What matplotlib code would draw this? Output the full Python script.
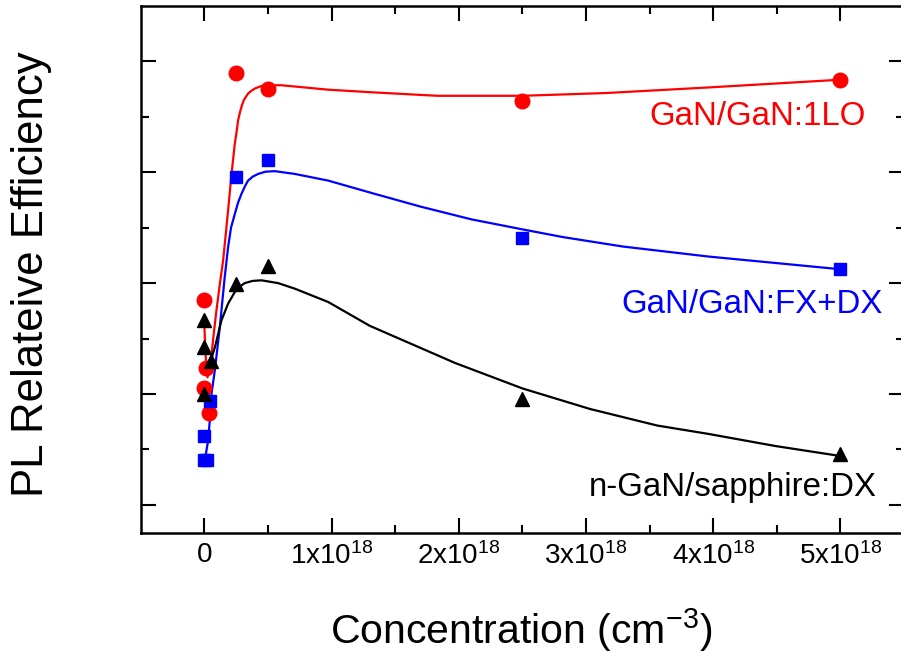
import matplotlib
matplotlib.use("Agg")
import matplotlib.pyplot as plt
from matplotlib.ticker import FixedLocator

plt.rcParams['font.family'] = ['Liberation Sans', 'DejaVu Sans']
plt.rcParams['mathtext.fontset'] = 'custom'
plt.rcParams['mathtext.rm'] = 'Liberation Sans'
plt.rcParams['mathtext.it'] = 'Liberation Sans:italic'

# concentration in units of 1e18 cm^-3, efficiency in arbitrary units
red_x = [0.0, 0.015, 0.0, 0.04, 0.25, 0.5, 2.5, 5.0]
red_y = [4.19, 2.97, 2.60, 2.16, 8.30, 8.00, 7.78, 8.17]
blue_x = [0.0, 0.025, 0.0, 0.045, 0.25, 0.5, 2.5, 5.0]
blue_y = [1.31, 1.31, 1.74, 2.38, 6.41, 6.73, 5.31, 4.76]
black_x = [0.0, 0.0, 0.05, 0.0, 0.25, 0.5, 2.5, 5.0]
black_y = [3.84, 3.35, 3.10, 2.50, 4.49, 4.80, 2.40, 1.42]

red_fit_x = [0.0, 0.01, 0.025, 0.045, 0.07, 0.095, 0.12, 0.148, 0.187, 0.214, 0.24, 0.255, 0.266,
             0.28, 0.292, 0.31, 0.344, 0.37, 0.397, 0.44, 0.489, 0.607, 0.973, 1.34, 1.83, 2.50,
             3.16, 3.96, 5.0]
red_fit_y = [3.75, 3.2, 2.8, 2.95, 3.5, 4.0, 4.45, 4.91, 5.81, 6.47, 7.02, 7.25, 7.44,
             7.58, 7.68, 7.80, 7.92, 7.97, 8.01, 8.05, 8.07, 8.07, 7.99, 7.94, 7.88, 7.88,
             7.93, 8.03, 8.17]
blue_fit_x = [0.004, 0.03, 0.043, 0.057, 0.083, 0.122, 0.16, 0.187, 0.21, 0.24, 0.265, 0.292,
              0.32, 0.344, 0.38, 0.423, 0.48, 0.554, 0.711, 0.973, 1.34, 1.70, 2.10, 2.50, 2.82,
              3.29, 3.96, 5.0]
blue_fit_y = [1.30, 1.66, 2.02, 2.51, 2.93, 3.71, 4.6, 5.15, 5.5, 5.75, 5.95, 6.11,
              6.25, 6.35, 6.42, 6.47, 6.51, 6.52, 6.47, 6.35, 6.11, 5.88, 5.65, 5.47, 5.33,
              5.16, 4.98, 4.75]
black_fit_x = [0.05, 0.083, 0.135, 0.187, 0.24, 0.28, 0.318, 0.38, 0.45, 0.58, 0.711, 0.973,
               1.30, 1.70, 1.97, 2.50, 3.03, 3.56, 3.96, 4.49, 5.0]
black_fit_y = [3.10, 3.34, 3.83, 4.13, 4.34, 4.44, 4.50, 4.54, 4.55, 4.50, 4.40, 4.16,
               3.73, 3.33, 3.06, 2.60, 2.23, 1.93, 1.78, 1.56, 1.38]

x_ticks = [0, 1, 2, 3, 4, 5]
x_ticklabels = ['0', r'1x10$^{\mathregular{18}}$', r'2x10$^{\mathregular{18}}$',
                r'3x10$^{\mathregular{18}}$', r'4x10$^{\mathregular{18}}$', r'5x10$^{\mathregular{18}}$']
labels = ['GaN/GaN:1LO', 'GaN/GaN:FX+DX', 'n-GaN/sapphire:DX']

fig = plt.figure(figsize=(9.01, 6.56), dpi=100)
ax = fig.add_axes([140.7 / 901, (656 - 532.5) / 656, (904 - 140.7) / 901, (532.5 - 6) / 656])

ax.plot(red_fit_x, red_fit_y, color='#ff0000', lw=1.6)
ax.plot(blue_fit_x, blue_fit_y, color='#0000ff', lw=1.6)
ax.plot(black_fit_x, black_fit_y, color='black', lw=1.6)
ax.plot(red_x, red_y, 'o', color='#ff0000', ms=10.5, ls='none')
ax.plot(blue_x, blue_y, 's', color='#0000ff', ms=8.5, ls='none')
ax.plot(black_x, black_y, '^', color='black', ms=9.5, ls='none')

ax.text(5.20, 7.51, labels[0], color='#ff0000', fontsize=23.8, ha='right', va='center')
ax.text(5.33, 4.12, labels[1], color='#0000ff', fontsize=23.8, ha='right', va='center')
ax.text(5.29, 0.81, labels[2], color='black', fontsize=23.8, ha='right', va='center')

ax.set_xlim(-0.5, 5.5)
ax.set_ylim(0, 9.5)
ax.xaxis.set_major_locator(FixedLocator(x_ticks))
ax.xaxis.set_minor_locator(FixedLocator([0.5, 1.5, 2.5, 3.5, 4.5]))
ax.set_xticklabels(x_ticklabels, fontsize=20)
ax.yaxis.set_major_locator(FixedLocator([0.5, 2.5, 4.5, 6.5, 8.5]))
ax.yaxis.set_minor_locator(FixedLocator([1.5, 3.5, 5.5, 7.5]))
ax.set_yticklabels([])
ax.tick_params(which='both', direction='in', top=True, right=True, width=1.5)
ax.tick_params(which='major', length=11, pad=7)
ax.tick_params(which='minor', length=6)
for s in ax.spines.values():
    s.set_linewidth(1.8)

fig.text(521 / 901, 1 - 630 / 656, r'Concentration (cm$^{\mathregular{-3}}$)', fontsize=29.5,
         ha='center', va='center')
fig.text(32 / 901, 1 - 274 / 656, 'PL Relateive Efficiency', fontsize=31.5, rotation=90,
         ha='center', va='center')

fig.savefig('out.png', dpi=100)
